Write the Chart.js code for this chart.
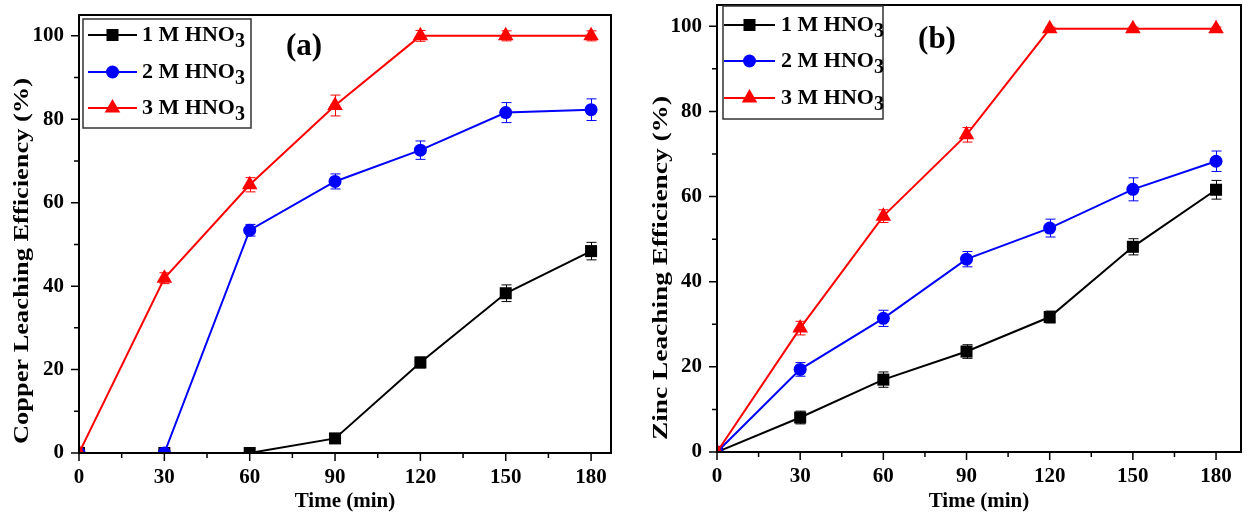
<!DOCTYPE html>
<html>
<head>
<meta charset="utf-8">
<script src="https://cdn.jsdelivr.net/npm/chart.js@4.4.0/dist/chart.umd.min.js"></script>
<style>
  body { margin: 0; background: #fff; }
  #wrap { position: relative; width: 1245px; height: 521px; }
  canvas { position: absolute; top: 0; }
</style>
</head>
<body>
<div id="wrap">
  <canvas id="cu" width="625" height="521" style="left:0"></canvas>
  <canvas id="zn" width="620" height="521" style="left:625px"></canvas>
</div>
<script>
// time points (min)
const times = [0, 30, 60, 90, 120, 150, 180];
const seriesNames = ['1 M HNO3', '2 M HNO3', '3 M HNO3'];
const xTicks = [0, 30, 60, 90, 120, 150, 180];
const yTicks = [0, 20, 40, 60, 80, 100];

// copper leaching efficiency (%)
const copper1M = [0, 0, 0, 3.5, 21.7, 38.3, 48.4];
const copper2M = [0, 0, 53.4, 65.1, 72.6, 81.6, 82.3];
const copper3M = [0, 41.9, 64.3, 83.3, 100, 100, 100];
const copper1MErr = [0, 0, 0, 0.6, 1.3, 2.0, 2.1];
const copper2MErr = [0, 0, 1.4, 1.8, 2.2, 2.4, 2.6];
const copper3MErr = [0, 1.3, 1.7, 2.5, 1.3, 1.2, 1.2];

// zinc leaching efficiency (%)
const zinc1M = [0, 8.1, 17.0, 23.6, 31.7, 48.2, 61.6];
const zinc2M = [0, 19.4, 31.4, 45.3, 52.6, 61.7, 68.3];
const zinc3M = [0, 29.1, 55.4, 74.5, 99.4, 99.4, 99.4];
const zinc1MErr = [0, 1.5, 1.8, 1.6, 1.4, 1.9, 2.2];
const zinc2MErr = [0, 1.6, 1.9, 1.8, 2.1, 2.7, 2.4];
const zinc3MErr = [0, 1.6, 1.5, 1.7, 0.4, 0.4, 0.4];

const colors = ['#000000', '#0000ff', '#ff0000'];
const styles = ['rect', 'circle', 'triangle'];
const radii = [8.5, 6.5, 9];
const FONT = '"Liberation Serif", "Times New Roman", serif';

function makeSets(values, errs) {
  return values.map((vals, i) => ({
    label: seriesNames[i],
    data: times.map((t, j) => ({ x: t, y: vals[j] })),
    errors: errs[i],
    borderColor: colors[i],
    backgroundColor: colors[i],
    borderWidth: 2,
    pointStyle: styles[i],
    pointRadius: radii[i],
    pointBorderWidth: 0,
    order: 3 - i,
    tension: 0
  }));
}

function drawMarker(ctx, style, x, y, r) {
  ctx.beginPath();
  if (style === 'rect') {
    const s = r * Math.SQRT1_2;
    ctx.rect(x - s, y - s, 2 * s, 2 * s);
  } else if (style === 'circle') {
    ctx.arc(x, y, r, 0, Math.PI * 2);
  } else {
    const w = r * Math.sqrt(3) / 2;
    ctx.moveTo(x, y - r);
    ctx.lineTo(x + w, y + r / 2);
    ctx.lineTo(x - w, y + r / 2);
    ctx.closePath();
  }
  ctx.fill();
}

const originStyle = {
  id: 'originStyle',
  beforeDatasetsDraw(chart) {
    const ctx = chart.ctx, xs = chart.scales.x, ys = chart.scales.y;
    ctx.save();
    chart.data.datasets.forEach(ds => {
      ctx.strokeStyle = ds.borderColor;
      ctx.lineWidth = 1;
      ds.data.forEach((p, j) => {
        const e = ds.errors[j];
        if (!e) return;
        const px = Math.round(xs.getPixelForValue(p.x)) + 0.5;
        const y1 = ys.getPixelForValue(p.y + e), y2 = ys.getPixelForValue(p.y - e);
        ctx.beginPath();
        ctx.moveTo(px, y1); ctx.lineTo(px, y2);
        ctx.moveTo(px - 5, y1); ctx.lineTo(px + 5, y1);
        ctx.moveTo(px - 5, y2); ctx.lineTo(px + 5, y2);
        ctx.stroke();
      });
    });
    ctx.restore();
  },
  afterDraw(chart, args, opts) {
    const ctx = chart.ctx, a = chart.chartArea;
    const xs = chart.scales.x, ys = chart.scales.y;
    ctx.save();
    ctx.strokeStyle = '#000';
    // frame
    ctx.lineWidth = 2;
    ctx.strokeRect(a.left, a.top, a.right - a.left, a.bottom - a.top);
    // ticks (major + minor), outward on left and bottom
    ctx.lineWidth = 1.5;
    ctx.beginPath();
    for (let v = 0; v <= 180; v += 15) {
      const px = xs.getPixelForValue(v);
      const len = v % 30 === 0 ? 8 : 5;
      ctx.moveTo(px, a.bottom); ctx.lineTo(px, a.bottom + len);
    }
    for (let v = 0; v <= 100; v += 10) {
      const py = ys.getPixelForValue(v);
      const len = v % 20 === 0 ? 8 : 5;
      ctx.moveTo(a.left, py); ctx.lineTo(a.left - len, py);
    }
    ctx.stroke();

    // y axis title (stretched along its length like the original)
    const T = opts.yTitle;
    ctx.save();
    ctx.font = 'bold ' + T.size + 'px ' + FONT;
    const tw = ctx.measureText(T.text).width;
    ctx.translate(T.x, T.y);
    ctx.rotate(-Math.PI / 2);
    ctx.scale(T.length / tw, 1);
    ctx.fillStyle = '#000';
    ctx.textAlign = 'center';
    ctx.textBaseline = 'middle';
    ctx.fillText(T.text, 0, 0);
    ctx.restore();

    // legend
    const L = opts.legend;
    ctx.fillStyle = '#fff';
    ctx.fillRect(L.x, L.y, L.w, L.h);
    ctx.strokeStyle = '#333';
    ctx.lineWidth = 1.5;
    ctx.strokeRect(L.x, L.y, L.w, L.h);
    chart.data.datasets.forEach((ds, i) => {
      const ry = L.rows[i];
      ctx.strokeStyle = ds.borderColor;
      ctx.fillStyle = ds.borderColor;
      ctx.lineWidth = 2;
      ctx.beginPath();
      ctx.moveTo(L.lineX0, ry); ctx.lineTo(L.lineX1, ry);
      ctx.stroke();
      drawMarker(ctx, ds.pointStyle, (L.lineX0 + L.lineX1) / 2, ry, ds.pointRadius);
      const base = ds.label.slice(0, -1), sub = ds.label.slice(-1);
      ctx.fillStyle = '#000';
      ctx.textBaseline = 'middle';
      ctx.textAlign = 'left';
      ctx.font = 'bold 22px ' + FONT;
      ctx.fillText(base, L.textX, ry);
      const w = ctx.measureText(base).width;
      ctx.font = 'bold 20px ' + FONT;
      ctx.fillText(sub, L.textX + w, ry + 7);
    });

    // panel label
    ctx.fillStyle = '#000';
    ctx.font = 'bold 31px ' + FONT;
    ctx.textAlign = 'center';
    ctx.textBaseline = 'middle';
    ctx.fillText(opts.label.text, opts.label.x, opts.label.y);
    ctx.restore();
  }
};

function makeChart(id, sets, cfg) {
  const tickFont = { family: FONT, size: 21, weight: 'bold' };
  const titleFont = { family: FONT, size: 21, weight: 'bold' };
  return new Chart(document.getElementById(id), {
    type: 'line',
    data: { datasets: sets },
    plugins: [originStyle],
    options: {
      responsive: false,
      animation: false,
      layout: { autoPadding: false, padding: { top: cfg.top, right: cfg.right, left: 0, bottom: 0 } },
      plugins: {
        legend: { display: false },
        tooltip: { enabled: false },
        originStyle: { legend: cfg.legend, label: cfg.label, yTitle: cfg.yTitle }
      },
      scales: {
        x: {
          type: 'linear',
          min: 0,
          max: cfg.xMax,
          afterBuildTicks: s => { s.ticks = xTicks.map(v => ({ value: v })); },
          afterFit: s => { s.height = cfg.xH; s.paddingLeft = 0; s.paddingRight = 0; },
          grid: { display: false, drawTicks: false },
          border: { display: false },
          ticks: { font: tickFont, color: '#000', padding: 12, maxRotation: 0, autoSkip: false },
          title: { display: true, text: 'Time (min)', font: titleFont, color: '#000', padding: { top: 0, bottom: 7 } }
        },
        y: {
          min: 0,
          max: 105,
          afterBuildTicks: s => { s.ticks = yTicks.map(v => ({ value: v })); },
          afterFit: s => { s.width = cfg.yW; s.paddingTop = 0; s.paddingBottom = 0; },
          grid: { display: false, drawTicks: false },
          border: { display: false },
          ticks: { font: tickFont, color: '#000', padding: 15 }
        }
      }
    }
  });
}

makeChart('cu', makeSets([copper1M, copper2M, copper3M], [copper1MErr, copper2MErr, copper3MErr]), {
  top: 15, right: 14, xH: 68, yW: 79, xMax: 187,
  yTitle: { text: 'Copper Leaching Efficiency (%)', x: 22, y: 261, size: 22, length: 366 },
  legend: { x: 83, y: 19, w: 168, h: 109, rows: [35, 72, 108], lineX0: 88, lineX1: 137, textX: 142 },
  label: { text: '(a)', x: 304, y: 47 }
});

makeChart('zn', makeSets([zinc1M, zinc2M, zinc3M], [zinc1MErr, zinc2MErr, zinc3MErr]), {
  top: 5, right: 4, xH: 69, yW: 92, xMax: 189,
  yTitle: { text: 'Zinc Leaching Efficiency (%)', x: 36, y: 268, size: 22, length: 344 },
  legend: { x: 98, y: 6, w: 160, h: 113, rows: [25, 61, 98], lineX0: 99, lineX1: 150, textX: 156 },
  label: { text: '(b)', x: 312, y: 40 }
});
</script>
</body>
</html>
